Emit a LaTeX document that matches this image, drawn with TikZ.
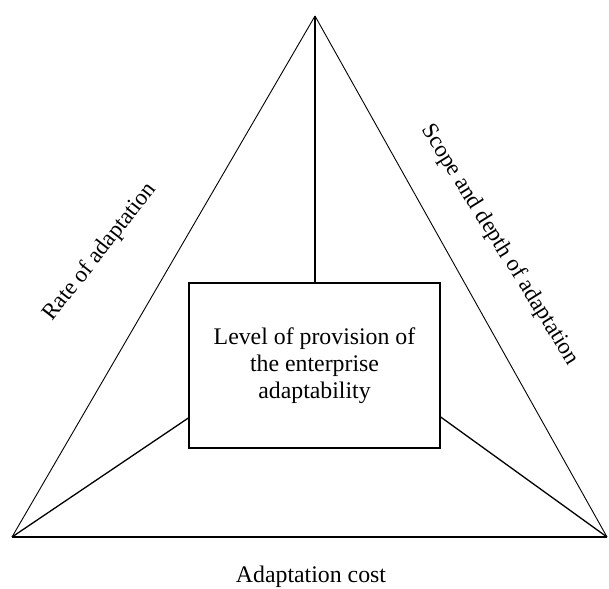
\documentclass[tikz,border=0pt]{standalone}
\usepackage{fontspec}
\setmainfont{Liberation Serif}
\usepackage{tikz}
\usetikzlibrary{positioning}

\tikzset{
  edge/.style={line width=0.9pt},
  spoke/.style={line width=1.3pt},
  caption/.style={font=\rmfamily\fontsize{23.8}{27}\selectfont, inner sep=0pt},
  side/.style={font=\rmfamily\fontsize{23}{27}\selectfont, inner sep=0pt},
}

\begin{document}
\begin{tikzpicture}[x=1pt,y=-1pt]
  \useasboundingbox (0,0) rectangle (609,588);
  \coordinate (top) at (315,16);
  \coordinate (bl) at (12,537);
  \coordinate (br) at (607,537);
  \node [draw, spoke, minimum width=251pt, minimum height=165pt, align=center,
         caption] (level) at (314.5,365.5)
        {Level of provision of\\the enterprise\\adaptability};
  \draw [edge] (top) -- (bl);
  \draw [edge] (top) -- (br);
  \draw [spoke] (bl) -- (br);
  \draw [spoke] (top) -- (level.north -| top);
  \draw [spoke] (bl) -- ([yshift=-52.5pt]level.west);
  \draw [spoke] (br) -- ([yshift=-51.5pt]level.east);
  \node [side, rotate=52] (rate) at (100,252) {Rate of adaptation};
  \node [side, rotate=-58] (scope) at (500,245) {Scope and depth of adaptation};
  \node [caption] (cost) at (311,577) {Adaptation cost};
\end{tikzpicture}
\end{document}
